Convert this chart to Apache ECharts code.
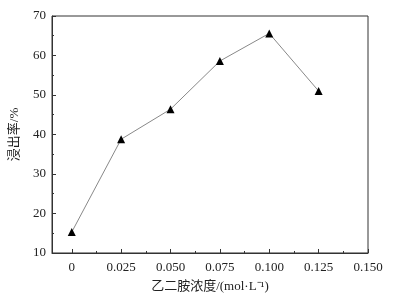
<!DOCTYPE html>
<html>
<head>
<meta charset="utf-8">
<script src="https://cdn.jsdelivr.net/npm/echarts@6/dist/echarts.min.js"></script>
<style>
  html, body { margin: 0; padding: 0; background: #fff; }
  #chart { width: 402px; height: 298px; }
</style>
</head>
<body>
<div id="chart"></div>
<script>
// 乙二胺浓度 vs 浸出率
var conc = [0, 0.025, 0.05, 0.075, 0.1, 0.125];
var leachRate = [15.3, 38.8, 46.4, 58.6, 65.6, 51.0];
var xMajor = [0, 0.025, 0.05, 0.075, 0.1, 0.125, 0.15];
var xMinor = [0.0125, 0.0375, 0.0625, 0.0875, 0.1125, 0.1375];
var xLabels = ['0', '0.025', '0.050', '0.075', '0.100', '0.125', '0.150'];

var chart = echarts.init(document.getElementById('chart'));
var serif = 'Liberation Serif';
var mixed = '"Liberation Serif", "Noto Sans CJK SC"';
var option = {
  animation: false,
  grid: {
    left: 48, right: 34, top: 16, bottom: 45,
    show: true, borderColor: '#333', borderWidth: 1
  },
  xAxis: [{
    type: 'value',
    min: -0.01, max: 0.15,
    name: '乙二胺浓度/(mol·L⁻¹)',
    nameLocation: 'middle',
    nameGap: 27,
    nameTextStyle: { fontFamily: mixed, fontSize: 13, color: '#222' },
    axisLine: { onZero: false, lineStyle: { color: '#333' } },
    axisTick: { inside: true, length: 4, customValues: xMajor, lineStyle: { color: '#333' } },
    axisLabel: {
      customValues: xMajor,
      formatter: function (v) {
        var i = xMajor.findIndex(function (m) { return Math.abs(m - v) < 1e-9; });
        return i >= 0 ? xLabels[i] : '';
      },
      fontFamily: serif, fontSize: 13, color: '#222', margin: 8
    },
    splitLine: { show: false }
  }, {
    type: 'value',
    position: 'bottom',
    min: -0.01, max: 0.15,
    axisLine: { show: false, onZero: false },
    axisTick: { inside: true, length: 2, customValues: xMinor, lineStyle: { color: '#333' } },
    axisLabel: { show: false },
    splitLine: { show: false }
  }],
  yAxis: {
    type: 'value',
    min: 10, max: 70, interval: 10,
    name: '浸出率/%',
    nameLocation: 'middle',
    nameGap: 31,
    nameTextStyle: { fontFamily: mixed, fontSize: 13, color: '#222' },
    axisLine: { show: true, onZero: false, lineStyle: { color: '#333' } },
    axisTick: { inside: true, length: 4, lineStyle: { color: '#333' } },
    minorTick: { show: true, splitNumber: 2, length: 2, lineStyle: { color: '#333' } },
    axisLabel: { fontFamily: serif, fontSize: 13, color: '#222', margin: 6 },
    splitLine: { show: false }
  },
  series: [{
    type: 'line',
    data: conc.map(function (c, i) { return [c, leachRate[i]]; }),
    symbol: 'triangle',
    symbolSize: 8,
    itemStyle: { color: '#000' },
    lineStyle: { color: '#888', width: 1 }
  }]
};
chart.setOption(option);
</script>
</body>
</html>
